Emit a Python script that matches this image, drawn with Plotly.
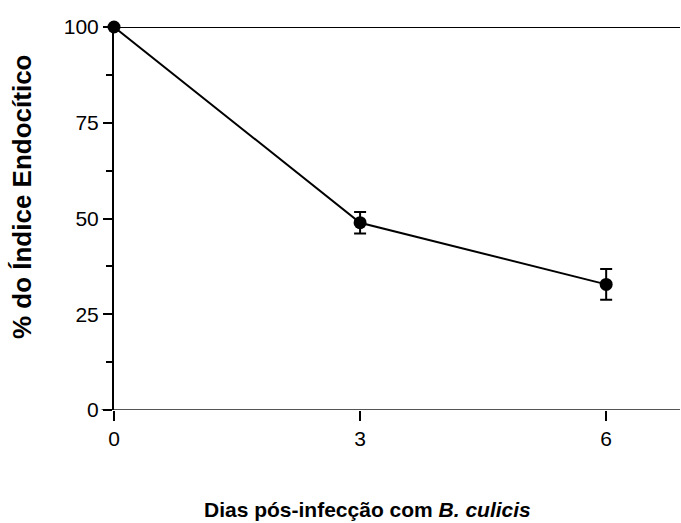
import plotly.graph_objects as go

# Endocytic index over days after infection
days = [0, 3, 6]
index_pct = [100, 48.9, 32.8]
index_err = [0, 2.8, 4.0]

x_ticks = [0, 3, 6]
y_ticks = [0, 25, 50, 75, 100]

FONT = "Liberation Sans, Arial, sans-serif"

fig = go.Figure()

# baseline at 100 %
fig.add_shape(type="line", xref="x", yref="y", x0=0, x1=6.9, y0=100, y1=100,
              line=dict(color="black", width=2), layer="below")
# axis at 0 %
fig.add_shape(type="line", xref="paper", yref="y", x0=-0.022, x1=1, y0=0, y1=0,
              line=dict(color="#555555", width=2), layer="below")

fig.add_trace(go.Scatter(
    x=days, y=index_pct,
    mode="lines+markers",
    line=dict(color="black", width=2),
    marker=dict(color="black", size=13),
    error_y=dict(type="data", array=index_err, visible=True,
                 color="black", thickness=2, width=6),
    cliponaxis=False,
    showlegend=False,
))

fig.update_layout(
    width=681, height=523,
    margin=dict(l=114, r=1, t=27, b=113),
    plot_bgcolor="white", paper_bgcolor="white",
    font=dict(family=FONT, size=21, color="black"),
    xaxis=dict(
        range=[0, 6.9], tickvals=x_ticks, ticktext=[str(v) for v in x_ticks],
        showline=False, zeroline=False, showgrid=False,
        ticks="outside", ticklen=10, tickwidth=2, tickcolor="black",
        tickfont=dict(family=FONT, size=21),
    ),
    yaxis=dict(
        range=[0, 100], tickvals=y_ticks, ticktext=[str(v) for v in y_ticks],
        showline=True, linecolor="black", linewidth=2, mirror=False,
        zeroline=False, showgrid=False,
        ticks="outside", ticklen=9, tickwidth=2, tickcolor="black",
        tickfont=dict(family=FONT, size=21),
        minor=dict(tickvals=[12.5, 37.5, 62.5, 87.5], ticks="outside",
                   ticklen=6, tickwidth=2, tickcolor="black"),
    ),
    annotations=[
        dict(text="<b>% do Índice Endocítico</b>", xref="paper", yref="paper",
             x=-0.1625, y=0.556, xanchor="center", yanchor="middle",
             textangle=-90, showarrow=False,
             font=dict(family=FONT, size=26, color="black")),
        dict(text="<b>Dias pós-infecção com <i>B. culicis</i></b>",
             xref="paper", yref="paper", x=0.447, y=-0.2585,
             xanchor="center", yanchor="middle", showarrow=False,
             font=dict(family=FONT, size=21, color="black")),
    ],
)

fig.write_html("out.html")
